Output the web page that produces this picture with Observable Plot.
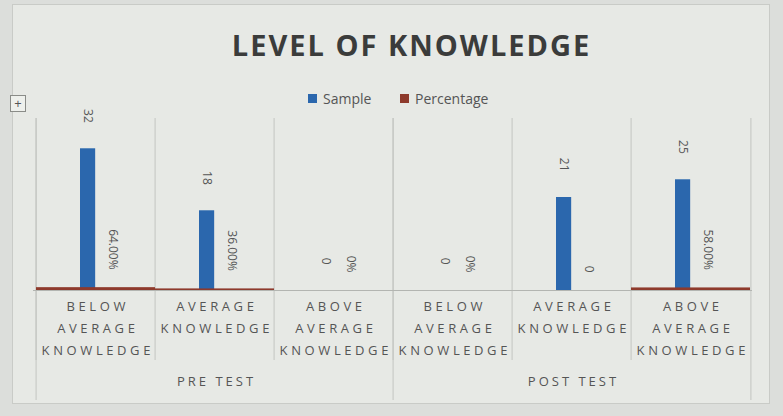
<!DOCTYPE html>
<html>
<head>
<meta charset="utf-8">
<script src="https://cdn.jsdelivr.net/npm/d3@7"></script>
<script src="https://cdn.jsdelivr.net/npm/@observablehq/plot@0.6"></script>
<style>
  html, body { margin: 0; padding: 0; }
  body { width: 783px; height: 416px; background: #dcdedb; position: relative; overflow: hidden; font-family: "Open Sans", "DejaVu Sans", sans-serif; }
  #panel { position: absolute; left: 12px; top: 4px; width: 756px; height: 398px; background: #e7e9e5; border: 1px solid #c9cbc7; }
  #title { position: absolute; left: 0; width: 783px; top: 25px; text-align: center; font-size: 29px; font-weight: 700; letter-spacing: 2px; color: #3b3c3b; padding-left: 40px; box-sizing: border-box; }
  .leg { position: absolute; top: 89px; font-size: 14px; color: #555; display: flex; align-items: center; }
  .sw { width: 9px; height: 9px; margin-right: 6px; display: inline-block; }
  #anchor { position: absolute; left: 10px; top: 95px; width: 14px; height: 15px; border: 1px solid #8a8c88; font-size: 13px; line-height: 14px; text-align: center; color: #555; background: #eef0ec; }
  #chart { position: absolute; left: 0; top: 100px; }
  .cat-labels text { letter-spacing: 3.6px; }
  .group-labels text { letter-spacing: 3px; }
</style>
</head>
<body>
<div id="panel"></div>
<div id="title">LEVEL OF KNOWLEDGE</div>
<div class="leg" style="left:308px"><span class="sw" style="background:#2b67ad"></span>Sample</div>
<div class="leg" style="left:400px"><span class="sw" style="background:#8e3a2c"></span>Percentage</div>
<div id="anchor">+</div>
<div id="chart"></div>
<script>
// ---- data ----
const groups = ["PRE TEST", "PRE TEST", "PRE TEST", "POST TEST", "POST TEST", "POST TEST"];
const categories = ["BELOW\nAVERAGE\nKNOWLEDGE", "AVERAGE\nKNOWLEDGE", "ABOVE\nAVERAGE\nKNOWLEDGE",
                    "BELOW\nAVERAGE\nKNOWLEDGE", "AVERAGE\nKNOWLEDGE", "ABOVE\nAVERAGE\nKNOWLEDGE"];
const sample = [32, 18, 0, 0, 21, 25];
const percentage = [0.64, 0.36, 0, 0, 0, 0.58];
const sampleLabels = ["32", "18", "0", "0", "21", "25"];
const percentageLabels = ["64.00%", "36.00%", "0%", "0%", "0", "58.00%"];
const groupNames = ["PRE TEST", "POST TEST"];

// ---- table ----
const rows = categories.map((c, i) => ({
  key: groups[i] + "|" + i,
  group: groups[i],
  cat: c,
  sample: sample[i],
  pct: percentage[i],
  sLabel: sampleLabels[i],
  pLabel: percentageLabels[i]
}));
const keys = rows.map(d => d.key);
const groupRows = groupNames.map(g => {
  const members = rows.filter(d => d.group === g);
  return {key: members[Math.floor(members.length / 2)].key, name: g};
});

const W = 783, H = 316, mL = 33, mR = 31, mT = 35, mB = 126;
const bw = (W - mL - mR) / keys.length;
const topGap = 17; // separators start this far above the frame

const blue = "#2b67ad", red = "#8e3a2c", ink = "#555555", grid = "#c3c5c1";

const chart = Plot.plot({
  width: W, height: H,
  marginLeft: mL, marginRight: mR, marginTop: mT, marginBottom: mB,
  style: {background: "transparent", fontFamily: "'Open Sans', sans-serif"},
  x: {type: "band", domain: keys, padding: 0, axis: null},
  y: {domain: [0, 35], axis: null},
  marks: [
    Plot.ruleX(keys, {x: d => d, dx: -bw / 2, stroke: grid, insetTop: -topGap, insetBottom: -70}),
    Plot.ruleX(keys.slice(-1), {x: d => d, dx: bw / 2, stroke: grid, insetTop: -topGap, insetBottom: -110}),
    Plot.ruleX(keys.slice(0, 1), {x: d => d, dx: -bw / 2, stroke: grid, insetTop: -topGap, insetBottom: -110}),
    Plot.ruleX(keys.slice(3, 4), {x: d => d, dx: -bw / 2, stroke: grid, insetTop: -topGap, insetBottom: -110}),
    Plot.ruleY([0], {stroke: "#b3b5b1", strokeWidth: 1.2}),
    Plot.barY(rows, {x: "key", y: "sample", fill: blue, insetLeft: 44, insetRight: bw - 60}),
    Plot.barY(rows, {x: "key", y: "pct", fill: red}),
    Plot.text(rows, {x: "key", y: "sample", text: "sLabel", rotate: 90, textAnchor: "end", dx: -8, dy: -26, fill: ink, fontSize: 12}),
    Plot.text(rows, {x: "key", y: "pct", text: "pLabel", rotate: 90, textAnchor: "end", dx: 17, dy: -18, fill: ink, fontSize: 12}),
    Plot.text(rows, {x: "key", y: 0, text: "cat", lineAnchor: "top", dy: 5, dx: 1.8, lineHeight: 1.68, fill: ink, fontSize: 13, className: "cat-labels"}),
    Plot.text(groupRows, {x: "key", y: 0, text: "name", dy: 91, dx: 1.5, fill: ink, fontSize: 13, className: "group-labels"})
  ]
});
// fallback in case className is not supported: tag the text groups by order
const textGroups = chart.querySelectorAll('g[aria-label="text"]');
if (textGroups.length === 4) {
  textGroups[2].classList.add("cat-labels");
  textGroups[3].classList.add("group-labels");
}
document.getElementById("chart").appendChild(chart);
</script>
</body>
</html>
